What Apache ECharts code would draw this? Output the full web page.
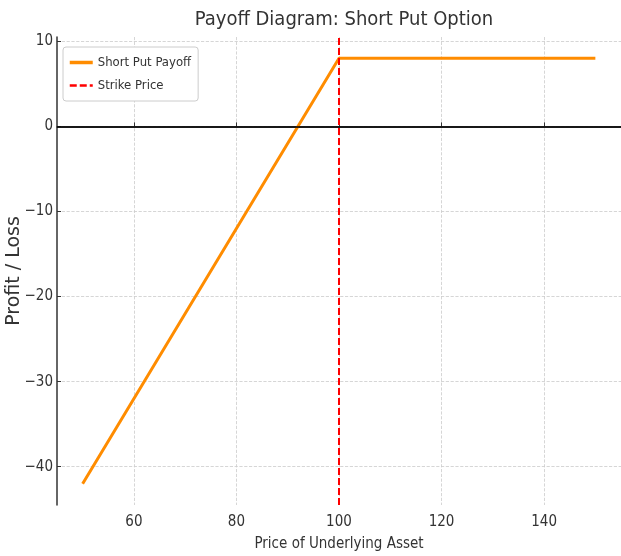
<!DOCTYPE html>
<html>
<head>
<meta charset="utf-8">
<script src="https://cdn.jsdelivr.net/npm/echarts@6/dist/echarts.min.js"></script>
<style>
html,body{margin:0;padding:0;background:#fff;}
#main{width:621px;height:556px;}
</style>
</head>
<body>
<div id="main"></div>
<script>
var prices=[50,100,150];//标的价格
var payoff=[-42,8,8];//卖出看跌期权收益
var strike=100;//行权价
var yRange=[-44.5,10.5];
var xRange=[45,155];
var narrow="'Liberation Sans Narrow','DejaVu Sans Condensed',sans-serif";

var payData=[];
for(var i=0;i<prices.length;i++){
	payData.push([prices[i],payoff[i]]);
}
var strikeData=[[strike,yRange[0]],[strike,yRange[1]]];

//负号用 unicode 减号
function fmtTick(v){
	return String(v).replace('-','\u2212');
}

var myChart=echarts.init(document.getElementById("main"));
var option={
	backgroundColor:'#fff',
	animation:false,
	title:{
		text:'Payoff Diagram: Short Put Option',
		left:339,
		textAlign:'center',
		top:5,
		textStyle:{fontFamily:narrow,fontSize:20,fontWeight:'normal',color:'#333'}
	},
	legend:{
		orient:'vertical',
		left:63,
		top:47,
		padding:[9,7,9,5],
		itemGap:10,
		itemWidth:23,
		itemHeight:12,
		backgroundColor:'#fff',
		borderColor:'#ccc',
		borderWidth:1,
		borderRadius:3,
		itemStyle:{opacity:0},
		textStyle:{fontFamily:narrow,fontSize:13,color:'#333'},
		data:[
			{name:'Short Put Payoff',lineStyle:{width:3.5}},
			{name:'Strike Price',lineStyle:{width:2.5}}
		]
	},
	grid:{left:57,right:0,top:37,bottom:51,outerBoundsMode:'none',containLabel:false},
	xAxis:{
		type:'value',
		min:xRange[0],
		max:xRange[1],
		name:'Price of Underlying Asset',
		nameLocation:'middle',
		nameGap:32,
		nameMoveOverlap:false,
		nameTextStyle:{fontFamily:narrow,fontSize:15,color:'#333'},
		axisLine:{lineStyle:{color:'#333',width:1.5}},
		axisTick:{show:true,inside:true,length:4,lineStyle:{color:'#333'}},
		axisLabel:{showMinLabel:false,showMaxLabel:false,fontFamily:narrow,fontSize:15,color:'#333',margin:10,formatter:fmtTick},
		splitLine:{show:true,showMinLine:false,showMaxLine:false,lineStyle:{color:'#ccc',type:'dashed',width:0.8}}
	},
	yAxis:{
		type:'value',
		min:yRange[0],
		max:yRange[1],
		name:'Profit / Loss',
		nameLocation:'middle',
		nameGap:33,
		nameMoveOverlap:false,
		nameTextStyle:{fontFamily:'DejaVu Sans',fontSize:19,color:'#333'},
		axisLine:{show:true,lineStyle:{color:'#333',width:1.5}},
		axisTick:{show:true,inside:true,length:4,lineStyle:{color:'#333'}},
		axisLabel:{showMinLabel:false,showMaxLabel:false,fontFamily:narrow,fontSize:15,color:'#333',margin:4,formatter:fmtTick},
		splitLine:{show:true,showMinLine:false,showMaxLine:false,lineStyle:{color:'#ccc',type:'dashed',width:0.8}}
	},
	series:[
		{
			name:'Short Put Payoff',
			type:'line',
			data:payData,
			symbol:'none',
			lineStyle:{color:'#ff8c00',width:3},
			itemStyle:{color:'#ff8c00'},
			z:3,
			markLine:{
				silent:true,
				symbol:'none',
				label:{show:false},
				lineStyle:{color:'#000',type:'solid',width:1.6},
				data:[{yAxis:0}]
			}
		},
		{
			name:'Strike Price',
			type:'line',
			data:strikeData,
			symbol:'none',
			lineStyle:{color:'#ff0000',type:[7,3],width:2},
			itemStyle:{color:'#ff0000'},
			z:4
		}
	]
};
myChart.setOption(option);
</script>
</body>
</html>
